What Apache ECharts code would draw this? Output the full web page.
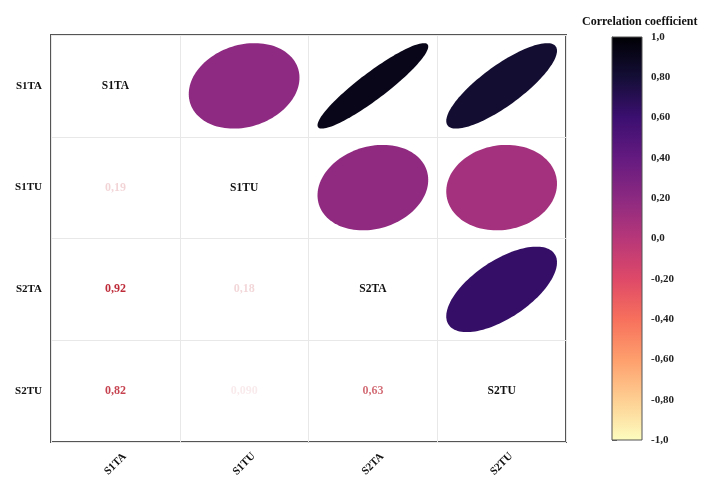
<!DOCTYPE html>
<html>
<head>
<meta charset="utf-8">
<title>Correlation matrix</title>
<script src="https://cdn.jsdelivr.net/npm/echarts@6/dist/echarts.min.js"></script>
<style>
  html, body { margin: 0; padding: 0; background: #ffffff; }
  #chart { width: 710px; height: 480px; }
</style>
</head>
<body>
<div id="chart"></div>
<script>
// Variables in the matrix (row/column order)
const categories = ['S1TA', 'S1TU', 'S2TA', 'S2TU'];

// Pearson correlation coefficients, one row per variable
const corrS1TA = [1.00, 0.19, 0.92, 0.82];
const corrS1TU = [0.19, 1.00, 0.18, 0.09];
const corrS2TA = [0.92, 0.18, 1.00, 0.63];
const corrS2TU = [0.82, 0.09, 0.63, 1.00];
const corrRows = [corrS1TA, corrS1TU, corrS2TA, corrS2TU];

// Colour-bar tick labels, from -1 to 1 in steps of 0.2
const colorbarTicks = ['-1,0', '-0,80', '-0,60', '-0,40', '-0,20', '0,0',
                       '0,20', '0,40', '0,60', '0,80', '1,0'];

// Magma palette, low (-1) to high (+1)
const magma = ['#FCFDBF', '#FECF92', '#FE9F6D', '#F7705C', '#DE4968', '#B73779',
               '#8C2981', '#641A80', '#3B0F70', '#140E36', '#000004'];

const serif = '"Liberation Serif", "DejaVu Serif", serif';

// Build the three triangles of the matrix
const ellipseData = [];
const valueData = [];
const diagData = [];
corrRows.forEach(function (row, i) {
  row.forEach(function (r, j) {
    if (j > i) {
      ellipseData.push([j, i, r]);
    } else if (j < i) {
      valueData.push({
        value: [j, i, r],
        label: { color: 'rgba(185, 25, 40, ' + Math.abs(r).toFixed(3) + ')' }
      });
    } else {
      diagData.push({ value: [j, i], name: categories[i] });
    }
  });
});

function fmtCorr(r) {
  return r.toPrecision(2).replace('.', ',');
}

const chart = echarts.init(document.getElementById('chart'));

chart.setOption({
  backgroundColor: '#ffffff',
  animation: false,
  title: {
    text: 'Correlation coefficient',
    left: 577,
    top: 11,
    textStyle: { fontFamily: serif, fontWeight: 'bold', fontSize: 12, color: '#111' }
  },
  grid: [
    { left: 51, top: 35, right: 144, bottom: 38, show: true,
      borderColor: '#555555', borderWidth: 2, backgroundColor: 'transparent' },
    { left: 612, top: 37, right: 68, bottom: 40 }
  ],
  xAxis: [
    {
      type: 'category', data: categories, gridIndex: 0,
      axisLine: { show: false }, axisTick: { show: false },
      splitLine: { show: true, lineStyle: { color: '#e8e8e8', width: 1 } },
      axisLabel: {
        rotate: 45, margin: 22, align: 'center', verticalAlign: 'middle',
        fontFamily: serif, fontWeight: 'bold', fontSize: 11, color: '#111'
      }
    },
    { type: 'value', gridIndex: 1, min: 0, max: 1, show: false }
  ],
  yAxis: [
    {
      type: 'category', data: categories, gridIndex: 0, inverse: true,
      axisLine: { show: false }, axisTick: { show: false },
      splitLine: { show: true, lineStyle: { color: '#e8e8e8', width: 1 } },
      axisLabel: { margin: 9, fontFamily: serif, fontWeight: 'bold', fontSize: 11, color: '#111' }
    },
    {
      type: 'value', gridIndex: 1, min: -1, max: 1, interval: 0.2, position: 'right',
      axisLine: { show: true, lineStyle: { color: '#555', width: 1 } },
      axisTick: { show: true, length: 5, lineStyle: { color: '#666', width: 1 } },
      splitLine: { show: false },
      axisLabel: {
        margin: 9, fontFamily: serif, fontWeight: 'bold', fontSize: 11, color: '#222',
        formatter: function (v) {
          return colorbarTicks[Math.round((v + 1) / 0.2)];
        }
      }
    }
  ],
  visualMap: {
    show: false, type: 'continuous', seriesIndex: 0, dimension: 2,
    min: -1, max: 1, inRange: { color: magma }
  },
  series: [
    {
      // Ellipses in the upper triangle
      type: 'custom', xAxisIndex: 0, yAxisIndex: 0,
      data: ellipseData,
      renderItem: function (params, api) {
        const c = api.coord([api.value(0), api.value(1)]);
        const s = api.size([1, 1]);
        const r = api.value(2);
        const d = Math.acos(r);
        const pts = [];
        for (let k = 0; k < 120; k++) {
          const t = 2 * Math.PI * k / 120;
          pts.push([c[0] + 0.43 * s[0] * Math.cos(t + d / 2),
                    c[1] - 0.42 * s[1] * Math.cos(t - d / 2)]);
        }
        return { type: 'polygon', shape: { points: pts },
                 style: { fill: api.visual('color') } };
      }
    },
    {
      // Coefficient values in the lower triangle
      type: 'scatter', xAxisIndex: 0, yAxisIndex: 0,
      symbolSize: 2, itemStyle: { color: 'rgba(0,0,0,0)', opacity: 1 },
      data: valueData,
      label: {
        show: true, position: 'inside', opacity: 1,
        fontFamily: serif, fontWeight: 'bold', fontSize: 12,
        formatter: function (p) { return fmtCorr(p.value[2]); }
      }
    },
    {
      // Variable names on the diagonal
      type: 'scatter', xAxisIndex: 0, yAxisIndex: 0,
      symbolSize: 2, itemStyle: { color: 'rgba(0,0,0,0)', opacity: 1 },
      data: diagData,
      label: {
        show: true, position: 'inside', color: '#111', opacity: 1,
        fontFamily: serif, fontWeight: 'bold', fontSize: 11.5,
        formatter: function (p) { return p.name; }
      }
    },
    {
      // Colour bar
      type: 'custom', xAxisIndex: 1, yAxisIndex: 1,
      data: [[0, -1]],
      renderItem: function (params, api) {
        const p0 = api.coord([0, 1]);
        const p1 = api.coord([1, -1]);
        const stops = magma.map(function (col, i) {
          return { offset: 1 - i / (magma.length - 1), color: col };
        }).reverse();
        return {
          type: 'rect',
          shape: { x: p0[0], y: p0[1], width: p1[0] - p0[0], height: p1[1] - p0[1] },
          style: {
            fill: new echarts.graphic.LinearGradient(0, 0, 0, 1, stops),
            stroke: '#555', lineWidth: 1
          }
        };
      }
    }
  ]
});
</script>
</body>
</html>
